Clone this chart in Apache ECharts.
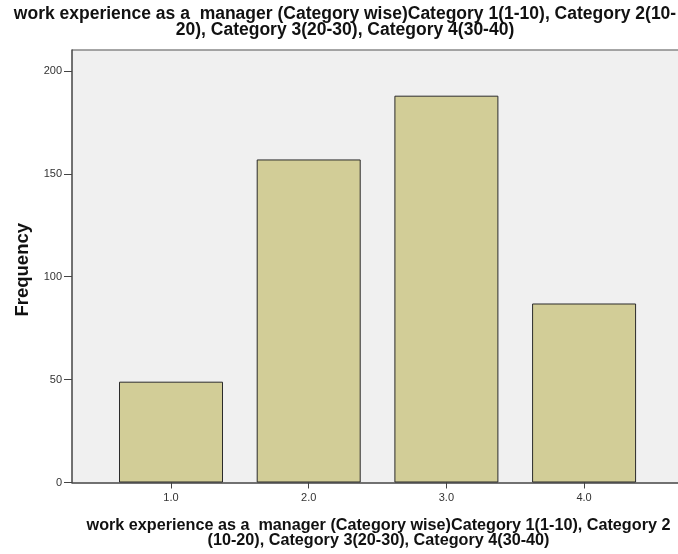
<!DOCTYPE html>
<html><head><meta charset="utf-8">
<script src="https://cdn.jsdelivr.net/npm/echarts@6/dist/echarts.min.js"></script>
<style>html,body{margin:0;padding:0;background:#fff}#c{width:678px;height:554px}</style>
</head><body><div id="c"></div>
<script>
const categories = [1, 2, 3, 4];
const tickLabels = ['1.0', '2.0', '3.0', '4.0'];
const frequencies = [49, 157, 188, 87];
const yTicks = [0, 50, 100, 150, 200];
const titleText = 'work experience as a  manager (Category wise)Category 1(1-10), Category 2(10-\n20), Category 3(20-30), Category 4(30-40)';
const xName = 'work experience as a  manager (Category wise)Category 1(1-10), Category 2\n(10-20), Category 3(20-30), Category 4(30-40)';
const yName = 'Frequency';

const chart = echarts.init(document.getElementById('c'), null, {renderer: 'canvas'});
const FONT = '"Liberation Sans", Arial, sans-serif';
chart.setOption({
  animation: false,
  backgroundColor: '#ffffff',
  title: {
    text: titleText,
    left: 340, textAlign: 'center', top: 1,
    textStyle: {fontFamily: FONT, fontSize: 17.5, fontWeight: 'bold', color: '#111', lineHeight: 16}
  },
  grid: {left: 72, right: 0, top: 50, bottom: 71, show: true, backgroundColor: '#f0f0f0', borderWidth: 0},
  xAxis: {
    type: 'value', min: 0.281, max: 4.682,
    name: xName, nameLocation: 'middle', nameGap: 36,
    nameTextStyle: {fontFamily: FONT, fontSize: 16.2, fontWeight: 'bold', color: '#111', lineHeight: 15, padding: [0, 0, 0, 7]},
    axisLine: {show: true, lineStyle: {color: '#444', width: 1.5}},
    axisTick: {show: true, length: 6, lineStyle: {color: '#444'}, customValues: categories},
    axisLabel: {fontFamily: FONT, fontSize: 11, color: '#333', margin: 10,
      customValues: categories,
      formatter: v => tickLabels[categories.indexOf(v)] || ''},
    splitLine: {show: false}
  },
  yAxis: {
    type: 'value', min: 0, max: 210.2,
    name: yName, nameLocation: 'middle', nameGap: 38,
    nameTextStyle: {fontFamily: FONT, fontSize: 18.5, fontWeight: 'bold', color: '#111', padding: [0, 7, 0, 0]},
    axisLine: {show: true, lineStyle: {color: '#444', width: 1.5}},
    axisTick: {show: true, length: 8, lineStyle: {color: '#444'}, customValues: yTicks},
    axisLabel: {fontFamily: FONT, fontSize: 11, color: '#333', margin: 10, customValues: yTicks},
    splitLine: {show: false}
  },
  graphic: [],
  series: [{
    type: 'bar',
    data: categories.map((c, i) => [c, frequencies[i]]),
    barWidth: 104,
    itemStyle: {color: '#d2cd97', borderColor: '#2b2b2b', borderWidth: 1}
  }]
});
// top frame line of the plot area
const topY = chart.convertToPixel({yAxisIndex: 0}, 210.2);
chart.setOption({graphic: [{type: 'line', shape: {x1: 72, y1: topY, x2: 678, y2: topY}, style: {stroke: '#888', lineWidth: 1.5}, silent: true}]});
</script></body></html>
